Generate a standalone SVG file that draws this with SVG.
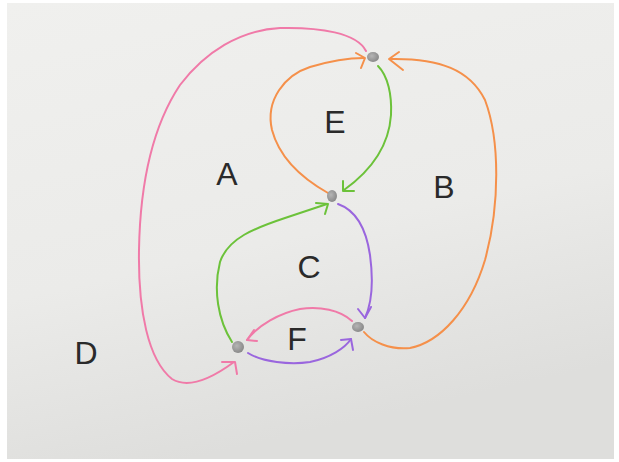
<svg xmlns="http://www.w3.org/2000/svg" width="619" height="462" viewBox="0 0 619 462">
<defs>
<linearGradient id="paper" x1="0" y1="0" x2="0.3" y2="1">
<stop offset="0" stop-color="#f0f0ee"/>
<stop offset="0.6" stop-color="#ebebe9"/>
<stop offset="1" stop-color="#dededc"/>
</linearGradient>
<radialGradient id="dot" cx="0.4" cy="0.4" r="0.6">
<stop offset="0" stop-color="#b5b5b5"/>
<stop offset="1" stop-color="#8a8a8a"/>
</radialGradient>
</defs>
<style>
.e{fill:none;stroke-width:2;stroke-linecap:round;stroke-linejoin:round}
.pink{stroke:#f07aa8}.orange{stroke:#f5904a}.green{stroke:#6cc23a}.purple{stroke:#9a66de}
.lbl{font-family:"Liberation Sans","DejaVu Sans",sans-serif;font-size:32px;fill:#2a2a2a;text-anchor:middle}
.n{fill:url(#dot)}
</style>
<rect width="619" height="462" fill="#ffffff"/>
<rect x="7" y="3" width="607" height="456" fill="url(#paper)"/>
<g id="connectors">
<path class="e pink" d="M366 51 C357 33 320 27 280 28 C240 30 205 52 180 85 C150 130 140 190 139 250 C138 310 148 360 172 379 C190 390 215 376 234 362"/>
<path class="e pink" d="M222 362 L235 362 L237 374"/>
<path class="e orange" d="M328 193 C305 180 280 160 272 130 C265 100 285 75 310 67 C330 61 350 58 364 58"/>
<path class="e orange" d="M356 53 L365 58 L361 68"/>
<path class="e green" d="M378 66 C388 76 392 95 391 115 C389 145 372 170 344 190"/>
<path class="e green" d="M343 181 L343 191 L354 191"/>
<path class="e orange" d="M364 332 C372 342 390 350 410 348 C440 342 470 310 485 260 C500 205 500 140 485 100 C470 70 440 58 390 59"/>
<path class="e orange" d="M399 52 L389 59 L403 70"/>
<path class="e green" d="M232 342 C218 320 213 290 220 262 C228 238 255 228 285 218 C300 213 315 208 327 204"/>
<path class="e green" d="M316 203 L328 204 L325 214"/>
<path class="e purple" d="M338 204 C355 210 366 228 370 255 C374 285 371 305 365 318"/>
<path class="e purple" d="M358 309 L365 318 L371 307"/>
<path class="e pink" d="M352 321 C340 310 320 306 300 309 C280 313 258 325 247 340"/>
<path class="e pink" d="M254 330 L247 340 L257 341"/>
<path class="e purple" d="M248 353 C262 362 290 365 310 362 C330 358 345 348 351 339"/>
<path class="e purple" d="M341 340 L351 339 L353 350"/>
</g>
<g id="n1"><ellipse class="n" cx="373" cy="57" rx="6" ry="5"/></g>
<g id="n2"><ellipse class="n" cx="332" cy="196" rx="5" ry="6"/></g>
<g id="n3"><ellipse class="n" cx="358" cy="327" rx="6" ry="5"/></g>
<g id="n4"><ellipse class="n" cx="238" cy="347" rx="6" ry="6"/></g>
<g id="labels">
<text class="lbl" x="227" y="185">A</text>
<text class="lbl" x="335" y="133">E</text>
<text class="lbl" x="444" y="198">B</text>
<text class="lbl" x="309" y="278">C</text>
<text class="lbl" x="297" y="350">F</text>
<text class="lbl" x="86" y="364">D</text>
</g>
</svg>
